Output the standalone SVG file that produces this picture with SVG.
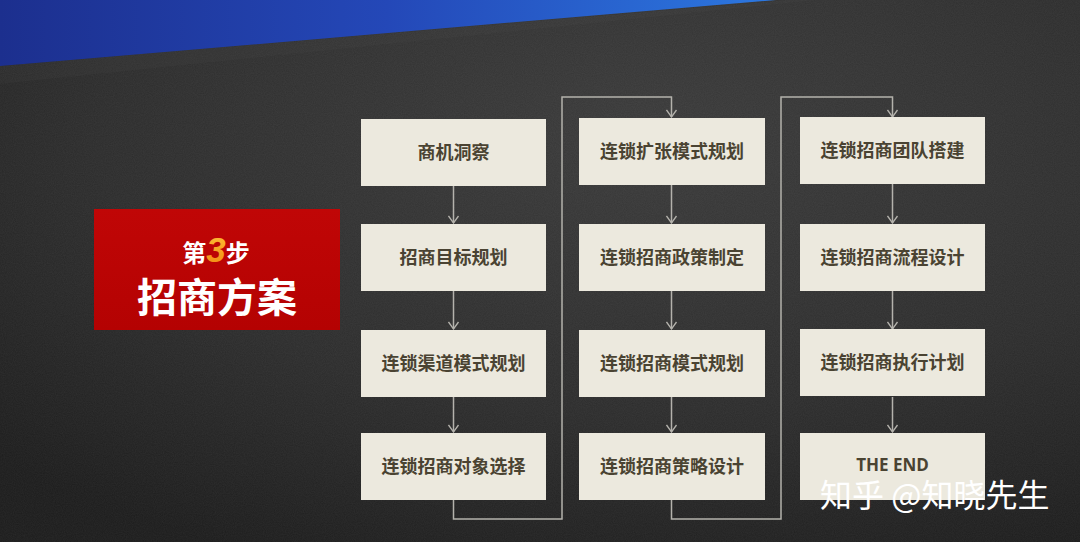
<svg xmlns="http://www.w3.org/2000/svg" width="1080" height="542" viewBox="0 0 1080 542">
<defs>
<radialGradient id="bg" cx="0.6" cy="0.25" r="0.85">
<stop offset="0" stop-color="#3a3a3a"/>
<stop offset="0.6" stop-color="#2c2c2c"/>
<stop offset="1" stop-color="#1c1c1c"/>
</radialGradient>
<linearGradient id="blue" x1="0" y1="0" x2="1" y2="0">
<stop offset="0" stop-color="#1c2f8e"/>
<stop offset="0.5" stop-color="#2448b8"/>
<stop offset="1" stop-color="#2c78e0"/>
</linearGradient>
<linearGradient id="red" x1="0" y1="0" x2="0" y2="1">
<stop offset="0" stop-color="#c00606"/>
<stop offset="1" stop-color="#b40202"/>
</linearGradient>
<linearGradient id="orange" x1="0" y1="0" x2="0" y2="1">
<stop offset="0" stop-color="#ffc03a"/>
<stop offset="1" stop-color="#f08a10"/>
</linearGradient>
<filter id="noise" x="0" y="0" width="1" height="1">
<feTurbulence type="fractalNoise" baseFrequency="0.9" numOctaves="2" seed="3" result="n"/>
<feColorMatrix type="matrix" values="0 0 0 0 1  0 0 0 0 1  0 0 0 0 1  0 0 0 0.06 0"/>
</filter>
<marker id="arr" viewBox="-9 -6 10 12" refX="0" refY="0" markerWidth="10" markerHeight="12" markerUnits="userSpaceOnUse" orient="auto">
<path d="M-7,-5 L0,0 L-7,5" fill="none" stroke="#b4b2ac" stroke-width="1.3"/>
</marker>
<style>
.box{fill:#ece9de;}
.lbl{font-family:"Noto Sans CJK SC","Noto Sans",sans-serif;font-weight:700;font-size:18px;fill:#4a4332;text-anchor:middle;}
.end{font-family:"Open Sans","Noto Sans","Noto Sans CJK SC",sans-serif;font-weight:700;font-size:17px;fill:#4a4332;text-anchor:middle;}
.con{fill:none;stroke:#b4b2ac;stroke-width:1.5;}
</style>
</defs>
<rect width="1080" height="542" fill="url(#bg)"/>
<rect width="1080" height="542" filter="url(#noise)"/>
<polygon points="0,66 790,0 815,0 0,84" fill="#ffffff" opacity="0.018"/>
<polygon points="0,0 776,0 0,66" fill="url(#blue)"/>

<g id="title">
<rect x="94" y="209" width="246" height="121" fill="url(#red)"/>
<text x="216" y="262" text-anchor="middle" font-family="Noto Sans CJK SC, Noto Sans, sans-serif" font-weight="700" font-size="24" fill="#ffffff">第<tspan font-family="Liberation Sans, Arial, sans-serif" font-style="italic" font-size="35" fill="url(#orange)">3</tspan>步</text>
<text x="217" y="312" text-anchor="middle" font-family="Noto Sans CJK SC, Noto Sans, sans-serif" font-weight="700" font-size="40" fill="#ffffff">招商方案</text>
</g>

<g id="connectors">
<path class="con" d="M453.5,185 V223" marker-end="url(#arr)"/>
<path class="con" d="M453.5,291 V329" marker-end="url(#arr)"/>
<path class="con" d="M453.5,397 V432" marker-end="url(#arr)"/>
<path class="con" d="M453.5,500 V519 H562 V97 H671.5 V117" marker-end="url(#arr)"/>
<path class="con" d="M671.5,185 V223" marker-end="url(#arr)"/>
<path class="con" d="M671.5,291 V329" marker-end="url(#arr)"/>
<path class="con" d="M671.5,397 V432" marker-end="url(#arr)"/>
<path class="con" d="M671.5,500 V519 H781 V97 H892.5 V117" marker-end="url(#arr)"/>
<path class="con" d="M892.5,184 V223" marker-end="url(#arr)"/>
<path class="con" d="M892.5,291 V329" marker-end="url(#arr)"/>
<path class="con" d="M892.5,397 V432" marker-end="url(#arr)"/>
</g>

<g id="n1"><rect class="box" x="361" y="119" width="185" height="67"/><text class="lbl" x="453.5" y="159">商机洞察</text></g>
<g id="n2"><rect class="box" x="361" y="224" width="185" height="67"/><text class="lbl" x="453.5" y="264">招商目标规划</text></g>
<g id="n3"><rect class="box" x="361" y="330" width="185" height="67"/><text class="lbl" x="453.5" y="370">连锁渠道模式规划</text></g>
<g id="n4"><rect class="box" x="361" y="433" width="185" height="67"/><text class="lbl" x="453.5" y="473">连锁招商对象选择</text></g>

<g id="n5"><rect class="box" x="579" y="118" width="186" height="67"/><text class="lbl" x="672" y="158">连锁扩张模式规划</text></g>
<g id="n6"><rect class="box" x="579" y="224" width="186" height="67"/><text class="lbl" x="672" y="264">连锁招商政策制定</text></g>
<g id="n7"><rect class="box" x="579" y="330" width="186" height="67"/><text class="lbl" x="672" y="370">连锁招商模式规划</text></g>
<g id="n8"><rect class="box" x="579" y="433" width="186" height="67"/><text class="lbl" x="672" y="473">连锁招商策略设计</text></g>

<g id="n9"><rect class="box" x="800" y="117" width="185" height="67"/><text class="lbl" x="892.5" y="157">连锁招商团队搭建</text></g>
<g id="n10"><rect class="box" x="800" y="224" width="185" height="67"/><text class="lbl" x="892.5" y="264">连锁招商流程设计</text></g>
<g id="n11"><rect class="box" x="800" y="329" width="185" height="67"/><text class="lbl" x="892.5" y="369">连锁招商执行计划</text></g>
<g id="n12"><rect class="box" x="800" y="433" width="185" height="67"/><text class="end" x="892.5" y="471">THE END</text></g>

<text x="820" y="507" font-family="Noto Sans CJK SC, Noto Sans, sans-serif" font-size="32" fill="#ffffff">知乎 @知晓先生</text>
</svg>
